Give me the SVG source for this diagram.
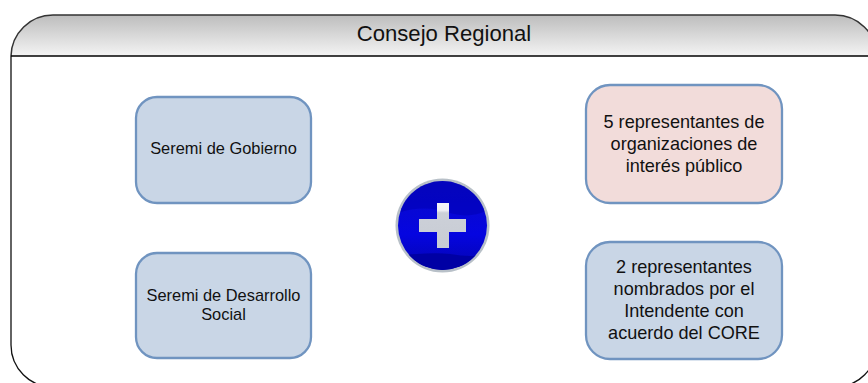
<svg xmlns="http://www.w3.org/2000/svg" width="868" height="383" viewBox="0 0 868 383">
<style>
text{font-family:"Liberation Sans",Arial,sans-serif;fill:#111;text-anchor:middle}
.box{stroke:#7094c0;stroke-width:2.300}
.blue{fill:#c9d6e6}
.pink{fill:#f2dcda}
.t13{font-size:16.4px}
.t14{font-size:18.100px}
</style>
<defs>
<linearGradient id="hdr" x1="0" y1="0" x2="0" y2="1"><stop offset="0" stop-color="#bdbdbd"/><stop offset="1" stop-color="#f4f4f4"/></linearGradient>
<linearGradient id="disc" x1="0" y1="0" x2="0" y2="1"><stop offset="0" stop-color="#0a0ac8"/><stop offset="0.6" stop-color="#0505e0"/><stop offset="1" stop-color="#0404b0"/></linearGradient>
<linearGradient id="cross" x1="0" y1="0" x2="0" y2="1"><stop offset="0" stop-color="#f4f4f8"/><stop offset="0.16" stop-color="#f0f0f4"/><stop offset="0.22" stop-color="#ccd0d8"/><stop offset="1" stop-color="#c8ccd4"/></linearGradient>
<clipPath id="dc"><circle cx="442.500" cy="225.500" r="44.500"/></clipPath>
</defs>
<g id="consejo">
<path d="M11 56 V345 A42 42 0 0 0 53 387 H835 A42 42 0 0 0 877 345 V56" fill="#fff" stroke="#111" stroke-width="1.3"/>
<path d="M11 56 A42 42 0 0 1 53 15 H835 A42 42 0 0 1 877 56 Z" fill="url(#hdr)"/>
<path d="M11 56 A42 42 0 0 1 53 15 H835 A42 42 0 0 1 877 56" fill="none" stroke="#333" stroke-width="1.5"/>
<path d="M11 56 H877" stroke="#000" stroke-width="1.4"/>
<text x="444" y="41" font-size="22.100">Consejo Regional</text>
</g>
<g id="seremi-gobierno">
<rect class="box blue" x="136" y="97" width="175" height="106" rx="21"/>
<text class="t13" x="223.500" y="154">Seremi de Gobierno</text>
</g>
<g id="seremi-desarrollo">
<rect class="box blue" x="136" y="253" width="175" height="105" rx="21"/>
<text class="t13" x="223.500" y="301">Seremi de Desarrollo</text>
<text class="t13" x="223.500" y="320">Social</text>
</g>
<g id="representantes-5">
<rect class="box pink" x="586" y="85" width="196" height="118" rx="24"/>
<text class="t14" x="684" y="128">5 representantes de</text>
<text class="t14" x="684" y="150">organizaciones de</text>
<text class="t14" x="684" y="172">interés público</text>
</g>
<g id="representantes-2">
<rect class="box blue" x="586" y="242" width="196" height="117" rx="24"/>
<text class="t14" x="684" y="273">2 representantes</text>
<text class="t14" x="684" y="295">nombrados por el</text>
<text class="t14" x="684" y="317">Intendente con</text>
<text class="t14" x="684" y="339">acuerdo del CORE</text>
</g>
<g id="plus">
<circle cx="442.500" cy="225.500" r="47" fill="#b8c0c8"/>
<circle cx="442.500" cy="225.500" r="44.500" fill="url(#disc)"/>
<g clip-path="url(#dc)">
<path d="M396 214 C415 206 435 208 450 213 C465 217 475 216 489 210 V180 H396 Z" fill="#0000b4" opacity=".55"/>
<path d="M396 255 C415 255 430 252 450 254 C465 256 475 258 489 252 V272 H396 Z" fill="#0000a4"/>
</g>
<path d="M437 203 H449 V219 H466 V232 H449 V248 H437 V232 H419 V219 H437 Z" fill="url(#cross)"/>
</g>
</svg>
